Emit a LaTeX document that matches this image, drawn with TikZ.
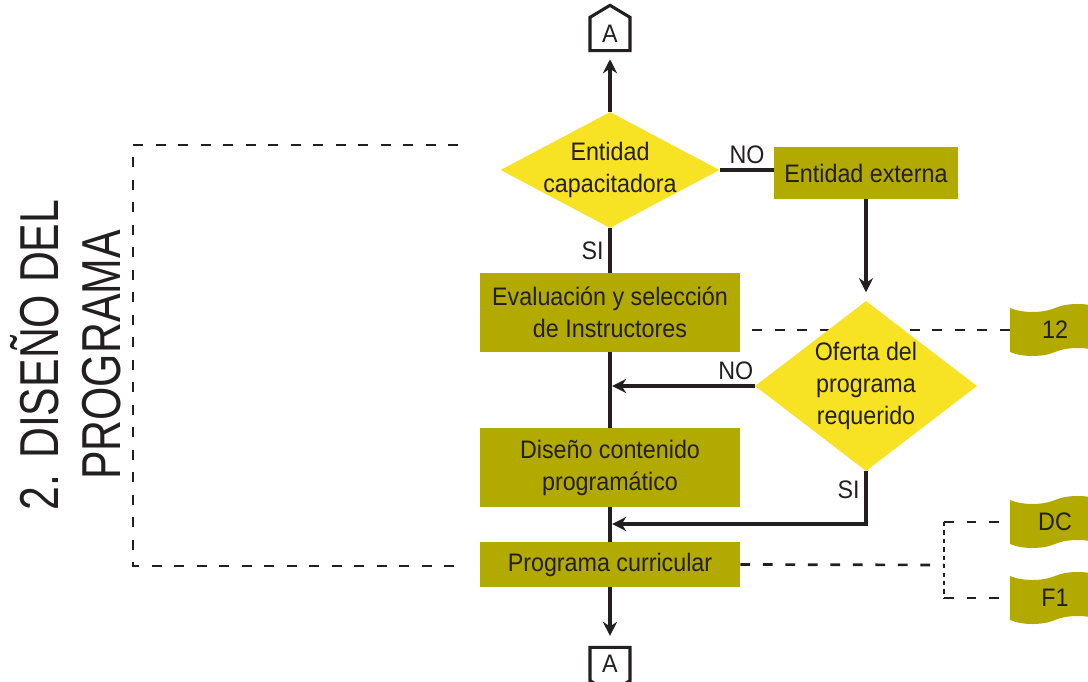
\documentclass[tikz,border=0pt]{standalone}
\usepackage{fontspec}
\setmainfont{Liberation Sans}[FakeStretch=0.92]
\newfontfamily\titlefont{Liberation Sans}[FakeStretch=0.78]
\usepackage{xcolor}
\usetikzlibrary{shapes.geometric, shapes.symbols, arrows.meta, backgrounds}
\definecolor{flowyellow}{RGB}{247, 227, 35}
\definecolor{flowolive}{RGB}{179, 170, 0}
\definecolor{flowdark}{RGB}{35, 31, 32}
\tikzstyle{arrow}=[line width=2.3pt, ->, >={Stealth[length=10pt, width=10pt]}, color=flowdark]
\tikzstyle{flowline}=[line width=2.3pt, color=flowdark]
\tikzstyle{docline}=[line width=1.9pt, color=flowdark, dash pattern=on 7pt off 9pt]
\tikzstyle{fineline}=[line width=1.9pt, color=flowdark, dash pattern=on 3pt off 3pt]
\tikzstyle{procbox}=[shape=rectangle, fill=flowolive, text=flowdark, align=center, inner sep=0pt, minimum width=6.5cm]
\tikzstyle{decision}=[shape=diamond, fill=flowyellow, inner sep=0pt]
\tikzstyle{docflag}=[shape=tape, fill=flowolive, text=flowdark, minimum width=2.25cm, minimum height=1.3cm, tape bend height=0.2cm, inner sep=0pt]
\tikzstyle{offpage}=[shape=signal, signal from=nowhere, signal pointer angle=118, draw=flowdark, line width=2.2pt, fill=white, text=flowdark, minimum width=1cm, minimum height=0.95cm, inner sep=0pt]

\begin{document}
\begin{tikzpicture}[x=0.025cm, y=-0.025cm, font=\fontsize{18}{22.75}\selectfont]
    \useasboundingbox (0,0) rectangle (1088,682);

    % Title
    \node[rotate=90, align=center, text=flowdark, font=\titlefont\fontsize{39}{44}\selectfont] (title) at (66,355) {2. DISEÑO DEL\\PROGRAMA};

    % Off-page connectors
    \node[offpage, signal to=north] (atop) at (610,34) {A};
    \node[offpage, signal to=south] (abot) at (610,664) {A};

    % Decisions
    \node[decision, minimum width=5.475cm, minimum height=2.9cm] (dcap) at (610,170) {};
    \node[align=center, text=flowdark] (dcaptxt) at (dcap) {Entidad\\capacitadora};
    \node[decision, minimum width=5.55cm, minimum height=4.25cm] (dofe) at (866,386) {};
    \node[align=center, text=flowdark] (dofetxt) at (dofe) {Oferta del\\programa\\requerido};

    % Process boxes
    \node[procbox, minimum width=4.575cm, minimum height=1.3cm] (dext) at (866,173) {Entidad externa};
    \node[procbox, minimum height=1.975cm] (deval) at (610,312.5) {Evaluación y selección\\de Instructores};
    \node[procbox, minimum height=1.975cm] (ddis) at (610,467.5) {Diseño contenido\\programático};
    \node[procbox, minimum height=1.125cm] (dprog) at (610,564.5) {Programa curricular};

    % Documents
    \node[docflag] (d12) at (1055,330) {12};
    \node[docflag] (ddc) at (1055,522) {DC};
    \node[docflag] (df1) at (1055,598) {F1};

    % Main flow
    \draw[arrow, shorten >=5pt] (dcap.north) -- (atop.south);
    \draw[flowline] (dcap.south) -- node[left, text=flowdark] {SI} (deval.north);
    \draw[flowline] (deval.south) -- (ddis.north);
    \draw[flowline] (ddis.south) -- (dprog.north);
    \draw[arrow, shorten >=7pt] (dprog.south) -- (abot.north);
    \draw[flowline] (dcap.east) -- node[above, text=flowdark] {NO} (dcap.east -| dext.west);
    \draw[arrow, shorten >=6pt] (dext.south) -- (dofe.north);
    \draw[arrow, shorten >=1.5pt] (dofe.west) -- node[above, pos=0.13, text=flowdark] {NO} (dofe.west -| deval.south);
    \coordinate (jsi) at (610,524);
    \draw[arrow, shorten >=1.5pt] (dofe.south) |- node[left, pos=0.18, text=flowdark] {SI} (jsi);

    % Document links and stage bracket
    \begin{pgfonlayer}{background}
        \draw[docline] (d12.west) -- (d12.west -| deval.east);
        \coordinate (jdoc) at (944,565);
        \draw[docline] (dprog.east) -- (jdoc);
        \draw[docline] (jdoc |- ddc.west) -- (ddc.west);
        \draw[docline] (jdoc |- df1.west) -- (df1.west);
        \draw[fineline] (jdoc |- ddc.west) -- (jdoc |- df1.west);
        \coordinate (btop) at (458,145);
        \coordinate (bbot) at (458,566);
        \draw[docline] (btop) -- (133,145) -- (133,566) -- (bbot);
    \end{pgfonlayer}

\end{tikzpicture}
\end{document}
